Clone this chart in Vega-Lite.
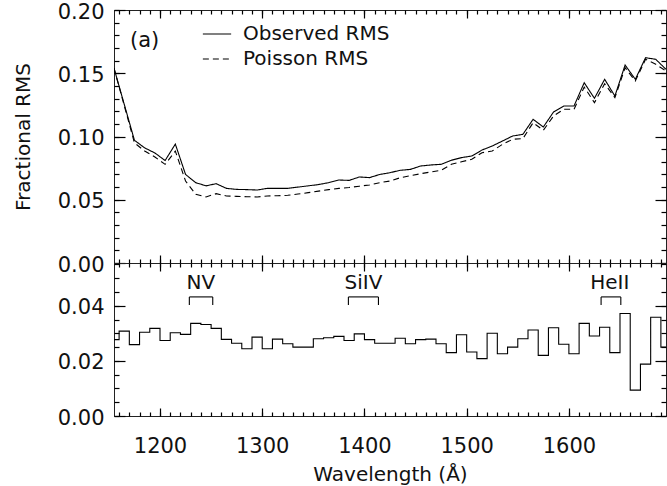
{
  "$schema": "https://vega.github.io/schema/vega-lite/v6.json",
  "background": "white",
  "padding": {"left": 12, "top": 0, "right": 0, "bottom": 0},
  "spacing": 0,
  "bounds": "flush",
  "config": {
    "font": "DejaVu Sans",
    "view": {"stroke": "#222", "strokeWidth": 1},
    "axis": {"grid": false, "domain": false, "ticks": true, "tickColor": "#000", "tickWidth": 1.2, "labelColor": "#111", "labelFont": "DejaVu Sans", "labelFontSize": 21, "titleFont": "DejaVu Sans", "titleFontSize": 20, "titleFontWeight": "normal", "titleColor": "#111"}
  },
  "datasets": {
    "rms": [
      {"wavelength": 1155, "series": "Observed RMS", "rms": 0.154},
      {"wavelength": 1175, "series": "Observed RMS", "rms": 0.097},
      {"wavelength": 1185, "series": "Observed RMS", "rms": 0.091},
      {"wavelength": 1195, "series": "Observed RMS", "rms": 0.087},
      {"wavelength": 1205, "series": "Observed RMS", "rms": 0.081},
      {"wavelength": 1215, "series": "Observed RMS", "rms": 0.094},
      {"wavelength": 1225, "series": "Observed RMS", "rms": 0.070},
      {"wavelength": 1235, "series": "Observed RMS", "rms": 0.0635},
      {"wavelength": 1245, "series": "Observed RMS", "rms": 0.061},
      {"wavelength": 1255, "series": "Observed RMS", "rms": 0.0627},
      {"wavelength": 1265, "series": "Observed RMS", "rms": 0.059},
      {"wavelength": 1275, "series": "Observed RMS", "rms": 0.0582},
      {"wavelength": 1285, "series": "Observed RMS", "rms": 0.058},
      {"wavelength": 1295, "series": "Observed RMS", "rms": 0.0577},
      {"wavelength": 1305, "series": "Observed RMS", "rms": 0.059},
      {"wavelength": 1315, "series": "Observed RMS", "rms": 0.059},
      {"wavelength": 1325, "series": "Observed RMS", "rms": 0.059},
      {"wavelength": 1335, "series": "Observed RMS", "rms": 0.060},
      {"wavelength": 1345, "series": "Observed RMS", "rms": 0.061},
      {"wavelength": 1355, "series": "Observed RMS", "rms": 0.062},
      {"wavelength": 1365, "series": "Observed RMS", "rms": 0.0635},
      {"wavelength": 1375, "series": "Observed RMS", "rms": 0.0656},
      {"wavelength": 1385, "series": "Observed RMS", "rms": 0.0653},
      {"wavelength": 1395, "series": "Observed RMS", "rms": 0.068},
      {"wavelength": 1405, "series": "Observed RMS", "rms": 0.0675},
      {"wavelength": 1415, "series": "Observed RMS", "rms": 0.070},
      {"wavelength": 1425, "series": "Observed RMS", "rms": 0.0714},
      {"wavelength": 1435, "series": "Observed RMS", "rms": 0.0733},
      {"wavelength": 1445, "series": "Observed RMS", "rms": 0.074},
      {"wavelength": 1455, "series": "Observed RMS", "rms": 0.0767},
      {"wavelength": 1465, "series": "Observed RMS", "rms": 0.0775},
      {"wavelength": 1475, "series": "Observed RMS", "rms": 0.078},
      {"wavelength": 1485, "series": "Observed RMS", "rms": 0.0812},
      {"wavelength": 1495, "series": "Observed RMS", "rms": 0.0833},
      {"wavelength": 1505, "series": "Observed RMS", "rms": 0.0846},
      {"wavelength": 1515, "series": "Observed RMS", "rms": 0.0893},
      {"wavelength": 1525, "series": "Observed RMS", "rms": 0.0925},
      {"wavelength": 1535, "series": "Observed RMS", "rms": 0.0964},
      {"wavelength": 1545, "series": "Observed RMS", "rms": 0.1004},
      {"wavelength": 1555, "series": "Observed RMS", "rms": 0.1017},
      {"wavelength": 1565, "series": "Observed RMS", "rms": 0.1136},
      {"wavelength": 1575, "series": "Observed RMS", "rms": 0.1075},
      {"wavelength": 1585, "series": "Observed RMS", "rms": 0.1194},
      {"wavelength": 1595, "series": "Observed RMS", "rms": 0.1241},
      {"wavelength": 1605, "series": "Observed RMS", "rms": 0.1241},
      {"wavelength": 1615, "series": "Observed RMS", "rms": 0.1425},
      {"wavelength": 1625, "series": "Observed RMS", "rms": 0.1302},
      {"wavelength": 1635, "series": "Observed RMS", "rms": 0.1452},
      {"wavelength": 1645, "series": "Observed RMS", "rms": 0.132},
      {"wavelength": 1655, "series": "Observed RMS", "rms": 0.1565},
      {"wavelength": 1665, "series": "Observed RMS", "rms": 0.1452},
      {"wavelength": 1675, "series": "Observed RMS", "rms": 0.1623},
      {"wavelength": 1685, "series": "Observed RMS", "rms": 0.161},
      {"wavelength": 1695, "series": "Observed RMS", "rms": 0.1531},
      {"wavelength": 1155, "series": "Poisson RMS", "rms": 0.154},
      {"wavelength": 1175, "series": "Poisson RMS", "rms": 0.095},
      {"wavelength": 1185, "series": "Poisson RMS", "rms": 0.0885},
      {"wavelength": 1195, "series": "Poisson RMS", "rms": 0.0838},
      {"wavelength": 1205, "series": "Poisson RMS", "rms": 0.078},
      {"wavelength": 1215, "series": "Poisson RMS", "rms": 0.0885},
      {"wavelength": 1225, "series": "Poisson RMS", "rms": 0.0648},
      {"wavelength": 1235, "series": "Poisson RMS", "rms": 0.0543},
      {"wavelength": 1245, "series": "Poisson RMS", "rms": 0.0522},
      {"wavelength": 1255, "series": "Poisson RMS", "rms": 0.0548},
      {"wavelength": 1265, "series": "Poisson RMS", "rms": 0.053},
      {"wavelength": 1275, "series": "Poisson RMS", "rms": 0.0527},
      {"wavelength": 1285, "series": "Poisson RMS", "rms": 0.0524},
      {"wavelength": 1295, "series": "Poisson RMS", "rms": 0.0522},
      {"wavelength": 1305, "series": "Poisson RMS", "rms": 0.053},
      {"wavelength": 1315, "series": "Poisson RMS", "rms": 0.0532},
      {"wavelength": 1325, "series": "Poisson RMS", "rms": 0.0535},
      {"wavelength": 1335, "series": "Poisson RMS", "rms": 0.0545},
      {"wavelength": 1345, "series": "Poisson RMS", "rms": 0.0556},
      {"wavelength": 1355, "series": "Poisson RMS", "rms": 0.0568},
      {"wavelength": 1365, "series": "Poisson RMS", "rms": 0.058},
      {"wavelength": 1375, "series": "Poisson RMS", "rms": 0.059},
      {"wavelength": 1385, "series": "Poisson RMS", "rms": 0.0597},
      {"wavelength": 1395, "series": "Poisson RMS", "rms": 0.0607},
      {"wavelength": 1405, "series": "Poisson RMS", "rms": 0.0617},
      {"wavelength": 1415, "series": "Poisson RMS", "rms": 0.0635},
      {"wavelength": 1425, "series": "Poisson RMS", "rms": 0.0648},
      {"wavelength": 1435, "series": "Poisson RMS", "rms": 0.0674},
      {"wavelength": 1445, "series": "Poisson RMS", "rms": 0.069},
      {"wavelength": 1455, "series": "Poisson RMS", "rms": 0.0706},
      {"wavelength": 1465, "series": "Poisson RMS", "rms": 0.072},
      {"wavelength": 1475, "series": "Poisson RMS", "rms": 0.0733},
      {"wavelength": 1485, "series": "Poisson RMS", "rms": 0.078},
      {"wavelength": 1495, "series": "Poisson RMS", "rms": 0.080},
      {"wavelength": 1505, "series": "Poisson RMS", "rms": 0.082},
      {"wavelength": 1515, "series": "Poisson RMS", "rms": 0.0872},
      {"wavelength": 1525, "series": "Poisson RMS", "rms": 0.0885},
      {"wavelength": 1535, "series": "Poisson RMS", "rms": 0.0938},
      {"wavelength": 1545, "series": "Poisson RMS", "rms": 0.0978},
      {"wavelength": 1555, "series": "Poisson RMS", "rms": 0.0983},
      {"wavelength": 1565, "series": "Poisson RMS", "rms": 0.1109},
      {"wavelength": 1575, "series": "Poisson RMS", "rms": 0.1049},
      {"wavelength": 1585, "series": "Poisson RMS", "rms": 0.1162},
      {"wavelength": 1595, "series": "Poisson RMS", "rms": 0.1215},
      {"wavelength": 1605, "series": "Poisson RMS", "rms": 0.1215},
      {"wavelength": 1615, "series": "Poisson RMS", "rms": 0.1391},
      {"wavelength": 1625, "series": "Poisson RMS", "rms": 0.1267},
      {"wavelength": 1635, "series": "Poisson RMS", "rms": 0.1417},
      {"wavelength": 1645, "series": "Poisson RMS", "rms": 0.1307},
      {"wavelength": 1655, "series": "Poisson RMS", "rms": 0.1544},
      {"wavelength": 1665, "series": "Poisson RMS", "rms": 0.1439},
      {"wavelength": 1675, "series": "Poisson RMS", "rms": 0.161},
      {"wavelength": 1685, "series": "Poisson RMS", "rms": 0.1571},
      {"wavelength": 1695, "series": "Poisson RMS", "rms": 0.1518}
    ],
    "hist": [
      {"wavelength": 1155, "excess": 0.0277},
      {"wavelength": 1160, "excess": 0.0308},
      {"wavelength": 1170, "excess": 0.0259},
      {"wavelength": 1180, "excess": 0.0304},
      {"wavelength": 1190, "excess": 0.0318},
      {"wavelength": 1200, "excess": 0.0274},
      {"wavelength": 1210, "excess": 0.0302},
      {"wavelength": 1220, "excess": 0.0296},
      {"wavelength": 1230, "excess": 0.0336},
      {"wavelength": 1240, "excess": 0.0332},
      {"wavelength": 1250, "excess": 0.0318},
      {"wavelength": 1260, "excess": 0.0278},
      {"wavelength": 1270, "excess": 0.0264},
      {"wavelength": 1280, "excess": 0.0244},
      {"wavelength": 1290, "excess": 0.0286},
      {"wavelength": 1300, "excess": 0.0244},
      {"wavelength": 1310, "excess": 0.0279},
      {"wavelength": 1320, "excess": 0.0262},
      {"wavelength": 1330, "excess": 0.0250},
      {"wavelength": 1340, "excess": 0.0250},
      {"wavelength": 1350, "excess": 0.0280},
      {"wavelength": 1360, "excess": 0.0284},
      {"wavelength": 1370, "excess": 0.0289},
      {"wavelength": 1380, "excess": 0.0274},
      {"wavelength": 1390, "excess": 0.0298},
      {"wavelength": 1400, "excess": 0.0277},
      {"wavelength": 1410, "excess": 0.0264},
      {"wavelength": 1420, "excess": 0.0264},
      {"wavelength": 1430, "excess": 0.0282},
      {"wavelength": 1440, "excess": 0.0262},
      {"wavelength": 1450, "excess": 0.0277},
      {"wavelength": 1460, "excess": 0.0279},
      {"wavelength": 1470, "excess": 0.0262},
      {"wavelength": 1480, "excess": 0.0230},
      {"wavelength": 1490, "excess": 0.0295},
      {"wavelength": 1500, "excess": 0.0232},
      {"wavelength": 1510, "excess": 0.0208},
      {"wavelength": 1520, "excess": 0.0300},
      {"wavelength": 1530, "excess": 0.0226},
      {"wavelength": 1540, "excess": 0.0250},
      {"wavelength": 1550, "excess": 0.0280},
      {"wavelength": 1560, "excess": 0.0312},
      {"wavelength": 1570, "excess": 0.0220},
      {"wavelength": 1580, "excess": 0.0320},
      {"wavelength": 1590, "excess": 0.0260},
      {"wavelength": 1600, "excess": 0.0226},
      {"wavelength": 1610, "excess": 0.0336},
      {"wavelength": 1620, "excess": 0.0290},
      {"wavelength": 1630, "excess": 0.0322},
      {"wavelength": 1640, "excess": 0.0230},
      {"wavelength": 1650, "excess": 0.0372},
      {"wavelength": 1660, "excess": 0.0094},
      {"wavelength": 1670, "excess": 0.0188},
      {"wavelength": 1680, "excess": 0.0358},
      {"wavelength": 1690, "excess": 0.0250},
      {"wavelength": 1700, "excess": 0.0250}
    ],
    "ions": [
      {"ion": "NV", "lo": 1228.7, "hi": 1251.6, "center": 1240},
      {"ion": "SiIV", "lo": 1384.3, "hi": 1413.7, "center": 1399},
      {"ion": "HeII", "lo": 1631.5, "hi": 1650.8, "center": 1640}
    ],
    "panel": [
      {"label": "(a)"}
    ]
  },
  "vconcat": [
    {
      "width": 552,
      "height": 253,
      "data": {"name": "rms"},
      "layer": [
        {
          "mark": {"type": "line", "color": "black", "strokeWidth": 1.1, "clip": true},
          "encoding": {
            "x": {"field": "wavelength", "type": "quantitative", "scale": {"domain": [1155, 1695], "nice": false, "zero": false},
                  "axis": {"orient": "bottom", "values": [1200, 1300, 1400, 1500, 1600], "labels": false, "tickSize": 8, "offset": -8, "title": null}},
            "y": {"field": "rms", "type": "quantitative", "scale": {"domain": [0, 0.2], "nice": false},
                  "axis": {"orient": "left", "values": [0, 0.05, 0.1, 0.15, 0.2], "format": ".2f", "tickSize": 11, "offset": -11, "labelPadding": 10, "labelOffset": 2, "title": "Fractional RMS", "titlePadding": 26, "minExtent": 66, "maxExtent": 66}},
            "strokeDash": {"field": "series", "type": "nominal", "scale": {"domain": ["Observed RMS", "Poisson RMS"], "range": [[1, 0], [6, 4]]},
                           "legend": {"orient": "none", "legendX": 88, "legendY": 9, "title": null, "symbolType": "stroke", "symbolSize": 800, "symbolStrokeColor": "black", "symbolStrokeWidth": 1.1, "labelFontSize": 20, "labelFont": "DejaVu Sans", "labelColor": "#111", "labelOffset": 11, "rowPadding": 0}}
          }
        },
        {
          "mark": {"type": "point", "opacity": 0},
          "encoding": {
            "x": {"field": "wavelength", "type": "quantitative", "scale": {"domain": [1155, 1695], "nice": false, "zero": false},
                  "axis": {"orient": "bottom", "values": [1160,1170,1180,1190,1200,1210,1220,1230,1240,1250,1260,1270,1280,1290,1300,1310,1320,1330,1340,1350,1360,1370,1380,1390,1400,1410,1420,1430,1440,1450,1460,1470,1480,1490,1500,1510,1520,1530,1540,1550,1560,1570,1580,1590,1600,1610,1620,1630,1640,1650,1660,1670,1680,1690], "labels": false, "tickSize": 4, "offset": -4, "title": null}},
            "y": {"field": "rms", "type": "quantitative", "scale": {"domain": [0, 0.2], "nice": false},
                  "axis": {"orient": "left", "values": [0,0.01,0.02,0.03,0.04,0.05,0.06,0.07,0.08,0.09,0.1,0.11,0.12,0.13,0.14,0.15,0.16,0.17,0.18,0.19,0.2], "labels": false, "tickSize": 5, "offset": -5, "title": null}}
          }
        },
        {
          "mark": {"type": "point", "opacity": 0},
          "encoding": {
            "x": {"field": "wavelength", "type": "quantitative", "scale": {"domain": [1155, 1695], "nice": false, "zero": false},
                  "axis": {"orient": "top", "values": [1200, 1300, 1400, 1500, 1600], "labels": false, "tickSize": 8, "offset": -8, "title": null}},
            "y": {"field": "rms", "type": "quantitative", "scale": {"domain": [0, 0.2], "nice": false},
                  "axis": {"orient": "right", "values": [0, 0.05, 0.1, 0.15, 0.2], "labels": false, "tickSize": 11, "offset": -11, "title": null}}
          }
        },
        {
          "mark": {"type": "point", "opacity": 0},
          "encoding": {
            "x": {"field": "wavelength", "type": "quantitative", "scale": {"domain": [1155, 1695], "nice": false, "zero": false},
                  "axis": {"orient": "top", "values": [1160,1170,1180,1190,1200,1210,1220,1230,1240,1250,1260,1270,1280,1290,1300,1310,1320,1330,1340,1350,1360,1370,1380,1390,1400,1410,1420,1430,1440,1450,1460,1470,1480,1490,1500,1510,1520,1530,1540,1550,1560,1570,1580,1590,1600,1610,1620,1630,1640,1650,1660,1670,1680,1690], "labels": false, "tickSize": 4, "offset": -4, "title": null}},
            "y": {"field": "rms", "type": "quantitative", "scale": {"domain": [0, 0.2], "nice": false},
                  "axis": {"orient": "right", "values": [0,0.01,0.02,0.03,0.04,0.05,0.06,0.07,0.08,0.09,0.1,0.11,0.12,0.13,0.14,0.15,0.16,0.17,0.18,0.19,0.2], "labels": false, "tickSize": 5, "offset": -5, "title": null}}
          }
        },
        {
          "data": {"name": "panel"},
          "mark": {"type": "text", "fontSize": 21, "font": "DejaVu Sans", "color": "#111"},
          "encoding": {
            "x": {"datum": 1185, "type": "quantitative", "axis": null},
            "y": {"datum": 0.1755, "type": "quantitative", "axis": null},
            "text": {"field": "label"}
          }
        }
      ],
      "resolve": {"axis": {"x": "independent", "y": "independent"}}
    },
    {
      "width": 552,
      "height": 153,
      "layer": [
        {
          "data": {"name": "hist"},
          "mark": {"type": "line", "interpolate": "step-after", "color": "black", "strokeWidth": 1.1, "clip": true},
          "encoding": {
            "x": {"field": "wavelength", "type": "quantitative", "scale": {"domain": [1155, 1695], "nice": false, "zero": false},
                  "axis": {"orient": "bottom", "values": [1200, 1300, 1400, 1500, 1600], "format": "d", "tickSize": 8, "offset": -8, "labelPadding": 19, "title": "Wavelength (Å)", "titlePadding": 8}},
            "y": {"field": "excess", "type": "quantitative", "scale": {"domain": [0, 0.0555], "nice": false},
                  "axis": {"orient": "left", "values": [0, 0.02, 0.04], "format": ".2f", "tickSize": 11, "offset": -11, "labelPadding": 10, "labelOffset": 2, "title": null, "minExtent": 66, "maxExtent": 66}}
          }
        },
        {
          "data": {"name": "hist"},
          "mark": {"type": "point", "opacity": 0},
          "encoding": {
            "x": {"field": "wavelength", "type": "quantitative", "scale": {"domain": [1155, 1695], "nice": false, "zero": false},
                  "axis": {"orient": "bottom", "values": [1160,1170,1180,1190,1200,1210,1220,1230,1240,1250,1260,1270,1280,1290,1300,1310,1320,1330,1340,1350,1360,1370,1380,1390,1400,1410,1420,1430,1440,1450,1460,1470,1480,1490,1500,1510,1520,1530,1540,1550,1560,1570,1580,1590,1600,1610,1620,1630,1640,1650,1660,1670,1680,1690], "labels": false, "tickSize": 4, "offset": -4, "title": null}},
            "y": {"field": "excess", "type": "quantitative", "scale": {"domain": [0, 0.0555], "nice": false},
                  "axis": {"orient": "left", "values": [0, 0.005, 0.01, 0.015, 0.02, 0.025, 0.03, 0.035, 0.04, 0.045, 0.05, 0.055], "labels": false, "tickSize": 5, "offset": -5, "title": null}}
          }
        },
        {
          "data": {"name": "hist"},
          "mark": {"type": "point", "opacity": 0},
          "encoding": {
            "x": {"field": "wavelength", "type": "quantitative", "scale": {"domain": [1155, 1695], "nice": false, "zero": false},
                  "axis": {"orient": "top", "values": [1200, 1300, 1400, 1500, 1600], "labels": false, "tickSize": 8, "offset": -8, "title": null}},
            "y": {"field": "excess", "type": "quantitative", "scale": {"domain": [0, 0.0555], "nice": false},
                  "axis": {"orient": "right", "values": [0, 0.02, 0.04], "labels": false, "tickSize": 11, "offset": -11, "title": null}}
          }
        },
        {
          "data": {"name": "hist"},
          "mark": {"type": "point", "opacity": 0},
          "encoding": {
            "x": {"field": "wavelength", "type": "quantitative", "scale": {"domain": [1155, 1695], "nice": false, "zero": false},
                  "axis": {"orient": "top", "values": [1160,1170,1180,1190,1200,1210,1220,1230,1240,1250,1260,1270,1280,1290,1300,1310,1320,1330,1340,1350,1360,1370,1380,1390,1400,1410,1420,1430,1440,1450,1460,1470,1480,1490,1500,1510,1520,1530,1540,1550,1560,1570,1580,1590,1600,1610,1620,1630,1640,1650,1660,1670,1680,1690], "labels": false, "tickSize": 4, "offset": -4, "title": null}},
            "y": {"field": "excess", "type": "quantitative", "scale": {"domain": [0, 0.0555], "nice": false},
                  "axis": {"orient": "right", "values": [0, 0.005, 0.01, 0.015, 0.02, 0.025, 0.03, 0.035, 0.04, 0.045, 0.05, 0.055], "labels": false, "tickSize": 5, "offset": -5, "title": null}}
          }
        },
        {
          "data": {"name": "ions"},
          "mark": {"type": "rule", "color": "black", "strokeWidth": 1.1},
          "encoding": {
            "x": {"field": "lo", "type": "quantitative", "axis": null},
            "x2": {"field": "hi"},
            "y": {"datum": 0.0432, "type": "quantitative", "axis": null}
          }
        },
        {
          "data": {"name": "ions"},
          "mark": {"type": "rule", "color": "black", "strokeWidth": 1.1},
          "encoding": {
            "x": {"field": "lo", "type": "quantitative", "axis": null},
            "y": {"datum": 0.0403, "type": "quantitative", "axis": null},
            "y2": {"datum": 0.0432}
          }
        },
        {
          "data": {"name": "ions"},
          "mark": {"type": "rule", "color": "black", "strokeWidth": 1.1},
          "encoding": {
            "x": {"field": "hi", "type": "quantitative", "axis": null},
            "y": {"datum": 0.0403, "type": "quantitative", "axis": null},
            "y2": {"datum": 0.0432}
          }
        },
        {
          "data": {"name": "ions"},
          "mark": {"type": "text", "fontSize": 20, "font": "DejaVu Sans", "color": "#111"},
          "encoding": {
            "x": {"field": "center", "type": "quantitative", "axis": null},
            "y": {"datum": 0.0481, "type": "quantitative", "axis": null},
            "text": {"field": "ion"}
          }
        }
      ],
      "resolve": {"axis": {"x": "independent", "y": "independent"}}
    }
  ]
}
